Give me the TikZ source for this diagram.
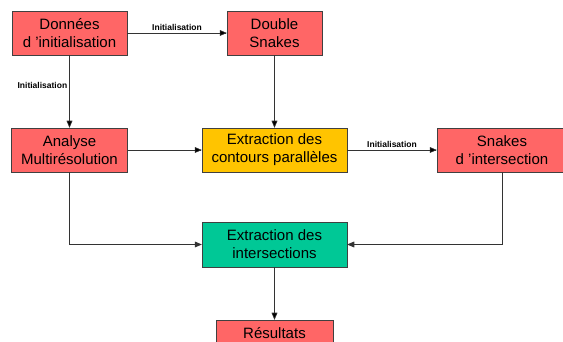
\documentclass[tikz,border=0pt]{standalone}
\usepackage{fontspec}
\setmainfont{Liberation Sans}
\usetikzlibrary{arrows}

\definecolor{rouge}{HTML}{FF6666}
\definecolor{jaune}{HTML}{FFC400}
\definecolor{vert}{HTML}{00C896}

\begin{document}
\begin{tikzpicture}[x=1pt,y=-1pt,>=triangle 45,node distance=205pt,
  box/.style={draw=black!75,minimum height=44pt,align=center,inner sep=0pt,
    font=\fontsize{15}{18}\selectfont},
  lbl/.style={font=\fontsize{8.5}{10}\selectfont\bfseries,inner sep=2pt}]

\useasboundingbox (0,0) rectangle (563,342);

\node[box,fill=rouge,minimum width=115pt] (donnees) at (69.5,33) {Données\\d ’initialisation};
 \node[box,fill=rouge,minimum width=95pt] (double) [right of=donnees] {Double\\Snakes};
	\node[box,fill=rouge,minimum width=116pt] (analyse) [below of=donnees,node distance=117pt] {Analyse\\Multirésolution};
	\node[box,fill=jaune,minimum width=145pt] (contours) [right of=analyse] {Extraction des\\contours parallèles};
	\node[box,fill=rouge,minimum width=130pt] (snakes) [right of=contours,node distance=227.5pt] {Snakes\\d ’intersection};
	\node[box,fill=vert,minimum width=145pt,minimum height=45pt] (inter) [below of=contours,node distance=94.5pt] {Extraction des\\intersections};
	\node[box,fill=rouge,minimum width=117pt] (resultats) [below of=inter,node distance=97.5pt] {Résultats\\\mbox{}};

	\path[->,draw=black!80,line width=0.6pt] (donnees) edge node[lbl,above]{Initialisation} (double)
									edge node[lbl,left,pos=0.42]{Initialisation} (analyse)
        (double) edge (contours)
        (analyse) edge (contours)
        (contours) edge node[lbl,above]{Initialisation} (snakes)
        (inter) edge (resultats);
	\draw[->,black!80,line width=0.6pt] (analyse) |- (inter);
	\draw[->,black!80,line width=0.6pt] (snakes) |- (inter);

\end{tikzpicture}
\end{document}
